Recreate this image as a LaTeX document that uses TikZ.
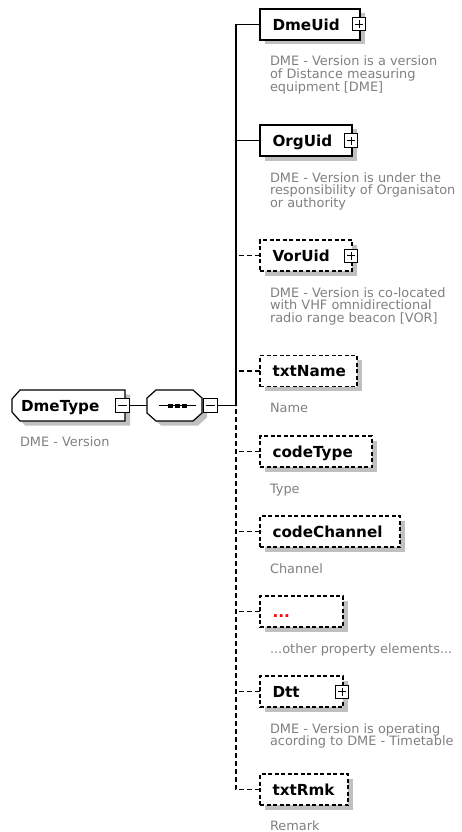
\documentclass[tikz,border=0pt]{standalone}
\usepackage{fontspec}
\setmainfont{DejaVu Sans}
\usetikzlibrary{shadows,backgrounds}

\definecolor{descgray}{RGB}{128,128,128}
\definecolor{shadowgray}{RGB}{192,192,192}
\definecolor{dotred}{RGB}{255,0,0}
\newcommand\labelfont{\fontsize{15.2pt}{18pt}\selectfont\bfseries\hyphenpenalty=10000 }
\newcommand\descfont{\fontsize{12.9pt}{12.6pt}\selectfont}

% outline of a complex type: left corners cut; #1 node, #2/#3 offset
\newcommand\hexoutline[3]{([shift={(#2+8pt,#3)}]#1.north west)
  -- ([shift={(#2,#3)}]#1.north east) -- ([shift={(#2,#3)}]#1.south east)
  -- ([shift={(#2+8pt,#3)}]#1.south west) -- ([shift={(#2,#3+9pt)}]#1.south west)
  -- ([shift={(#2,#3-9pt)}]#1.north west) -- cycle}
% outline of a compositor: all four corners cut
\newcommand\octoutline[3]{([shift={(#2+9pt,#3)}]#1.north west)
  -- ([shift={(#2-9pt,#3)}]#1.north east) -- ([shift={(#2,#3-8pt)}]#1.north east)
  -- ([shift={(#2,#3+8pt)}]#1.south east) -- ([shift={(#2-9pt,#3)}]#1.south east)
  -- ([shift={(#2+9pt,#3)}]#1.south west) -- ([shift={(#2,#3+8pt)}]#1.south west)
  -- ([shift={(#2,#3-8pt)}]#1.north west) -- cycle}

\begin{document}
\begin{tikzpicture}[x=1pt,y=-1pt,
  every node/.style={inner sep=0pt, outer sep=0pt},
  boxline/.style={line width=1.2pt},
  boxshadow/.style={general shadow={fill=shadowgray, shadow xshift=5pt, shadow yshift=-4.5pt}},
  % element box of a schema particle; #1 = width left for the label
  elem/.style={rectangle, draw, boxline, fill=white, boxshadow,
    minimum height=31pt, anchor=west, inner xsep=12.5pt,
    text width=#1, align=left, text height=11.3pt, text depth=0pt,
    font=\labelfont},
  optelem/.style={elem=#1, dash pattern=on 4pt off 2.5pt},
  plusbox/.style={rectangle, draw, line width=1pt, fill=white, minimum size=13pt,
    path picture={\draw[line width=1pt]
      ([xshift=-4pt]path picture bounding box.center) -- ([xshift=4pt]path picture bounding box.center)
      ([yshift=-4pt]path picture bounding box.center) -- ([yshift=4pt]path picture bounding box.center);}},
  minusbox/.style={rectangle, draw, line width=1pt, fill=white, minimum size=14pt,
    path picture={\draw[line width=1pt]
      ([xshift=-4.5pt]path picture bounding box.center) -- ([xshift=4.5pt]path picture bounding box.center);}},
  conn/.style={line width=1.2pt},
  dconn/.style={conn, dash pattern=on 5pt off 3pt},
  % annotation text, placed by the baseline of its last line
  desc/.style={anchor=base west, align=left, font=\descfont, text=descgray}
]
\useasboundingbox (0,0) rectangle (462,832);

% complex type and its sequence compositor
\node[rectangle, minimum width=113pt, minimum height=31pt,
      text width=95pt, align=left, text height=11.3pt, text depth=0pt,
      font=\labelfont] (dmetype) at (68.5,405.5) {DmeType};
\node[rectangle, minimum width=55pt, minimum height=31pt] (seq) at (174.5,405.5) {};
\begin{scope}[on background layer]
  \fill[shadowgray] \hexoutline{dmetype}{5pt}{-4.5pt};
  \draw[boxline, fill=white] \hexoutline{dmetype}{0pt}{0pt};
  \fill[shadowgray] \octoutline{seq}{5pt}{-4.5pt};
  \draw[boxline, fill=white] \octoutline{seq}{0pt}{0pt};
\end{scope}
\draw[line width=1.1pt] ([xshift=-16pt]seq.center) -- ([xshift=21pt]seq.center);
\foreach \dx in {-4.5,2.5,9.5}
  \fill ([shift={(\dx pt-2.5pt,-2pt)}]seq.center) rectangle ++(5pt,4pt);

\node[minusbox] (dmetypeminus) at ([xshift=-2.5pt]dmetype.east) {};
\node[minusbox, anchor=west] (seqminus) at ([xshift=1pt]seq.east) {};
\node[desc] (dmetypedesc) at (20,446) {DME - Version};

\coordinate (sp) at (236,405.5);

% child elements
\node[elem=75pt]     (dmeuid)      at (260,24.5)  {DmeUid};
\node[elem=67pt]     (orguid)      at (260,140.5) {OrgUid};
\node[optelem=67pt]  (voruid)      at (260,255.5) {VorUid};
\node[optelem=72pt]  (txtname)     at (260,371)   {txtName};
\node[optelem=87pt]  (codetype)    at (260,451.5) {codeType};
\node[optelem=115pt] (codechannel) at (260,531.5) {codeChannel};
\node[optelem=58pt]  (more)        at (260,611.5) {\textcolor{dotred}{...}};
\node[optelem=58pt]  (dtt)         at (260,691.5) {Dtt};
\node[optelem=63pt]  (txtrmk)      at (260,789.5) {txtRmk};

\node[plusbox] (dmeuidplus) at ([xshift=-1pt]dmeuid.east) {};
\node[plusbox] (orguidplus) at ([xshift=-1pt]orguid.east) {};
\node[plusbox] (voruidplus) at ([xshift=-1pt]voruid.east) {};
\node[plusbox] (dttplus)    at ([xshift=-1pt]dtt.east) {};

% annotations
\node[desc] (dmeuiddesc)  at (270,91.2)  {DME - Version is a version\\of Distance measuring\\equipment [DME]};
\node[desc] (orguiddesc)  at (270,207.2) {DME - Version is under the\\responsibility of Organisaton\\or authority};
\node[desc] (voruiddesc)  at (270,322.2) {DME - Version is co-located\\with VHF omnidirectional\\radio range beacon [VOR]};
\node[desc] (txtnamedesc) at (270,412.5) {Name};
\node[desc] (codetypedesc) at (270,493)  {Type};
\node[desc] (codechanneldesc) at (270,573) {Channel};
\node[desc] (moredesc)    at (270,653)   {...other property elements...};
\node[desc] (dttdesc)     at (270,745.6) {DME - Version is operating\\acording to DME - Timetable};
\node[desc] (txtrmkdesc)  at (270,830.5) {Remark};

% connectors
\draw[conn] (dmetypeminus) -- (seq);
\draw[conn] (seqminus) -- (sp);
\draw[conn] (dmeuid.west) -| (sp);
\draw[conn] (orguid.west) -- (orguid.west -| sp);
\draw[dconn] (voruid.west) -- (voruid.west -| sp);
\draw[dconn] (txtname.west) -- (txtname.west -| sp);
\draw[dconn] (codetype.west) -- (codetype.west -| sp);
\draw[dconn] (codechannel.west) -- (codechannel.west -| sp);
\draw[dconn] (more.west) -- (more.west -| sp);
\draw[dconn] (dtt.west) -- (dtt.west -| sp);
\draw[dconn] (txtrmk.west) -| (sp);
\end{tikzpicture}
\end{document}
